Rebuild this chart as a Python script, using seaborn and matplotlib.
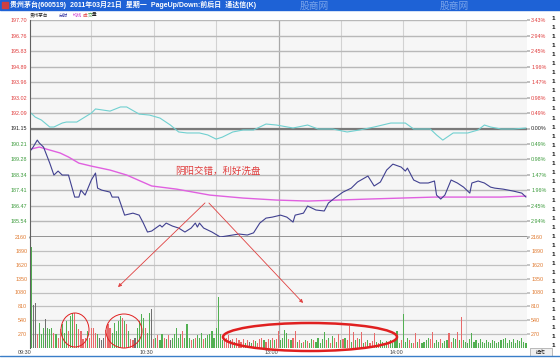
import numpy as np
import pandas as pd
import matplotlib
matplotlib.use('Agg')
import matplotlib.pyplot as plt
import seaborn as sns
from matplotlib.patches import Rectangle, Ellipse, FancyArrowPatch

# ---------------- data ----------------
price_min = [1,2,4,5,7,10,12,14,16,19,22,24,25,27,28,30,32,33,35,39,40,43,44,46,50,53,55,57,59,61,63,64,66,69,72,75,78,80,81,82,84,86,88,92,95,98,101,105,108,111,114,117,121,124,127,128,132,134,138,142,144,147,151,155,158,163,166,169,172,175,179,181,182,185,188,192,195,196,198,200,203,206,209,212,213,216,219,222,224,228,233,237,239]
price_val = [189.85,190.03,190.45,190.27,190.03,189.06,188.34,188.58,188.34,188.34,187.01,187.01,187.43,187.13,187.43,188.04,188.46,187.55,187.43,187.31,187.01,187.01,186.65,185.92,186.04,185.92,185.44,184.90,184.96,185.14,185.32,185.20,185.44,185.26,185.14,184.90,185.14,185.44,185.20,185.44,185.14,185.02,184.90,184.60,184.66,184.72,184.78,184.72,184.85,185.44,185.74,185.80,185.92,185.80,185.50,185.92,186.04,186.47,186.23,186.17,186.65,186.95,187.31,187.55,187.92,188.28,187.68,187.92,188.64,189.00,188.82,188.58,188.76,188.04,187.86,187.86,187.98,187.13,186.89,187.13,188.04,187.86,187.61,187.25,187.86,187.98,187.86,187.61,187.55,187.49,187.37,187.25,187.01]

avg_min = [1,5,15,19,24,30,39,47,59,71,87,103,119,134,163,195,227,239]
avg_val = [189.91,190.03,189.67,189.43,189.06,188.88,188.64,188.34,187.68,187.49,187.13,186.95,186.83,186.77,186.89,187.01,187.01,187.07]

idx_min = [1,3,6,10,12,16,18,23,30,32,39,44,47,53,58,63,68,72,76,82,86,90,93,98,103,108,114,119,127,134,139,146,153,159,166,174,181,185,193,196,199,204,211,216,219,222,227,233,239]
idx_val = [192.08,191.84,191.66,191.24,191.24,191.48,191.54,191.54,192.08,192.33,192.20,192.45,192.45,192.02,191.96,191.78,191.36,190.94,190.88,190.88,190.76,190.51,190.63,190.94,191.06,191.06,191.42,191.36,191.18,191.36,191.12,191.12,190.94,191.06,191.24,191.48,191.48,191.12,191.12,190.76,190.45,190.88,190.88,191.06,191.36,191.24,191.12,191.12,191.18]

vol_val = [1960,830,880,270,490,270,390,560,390,370,
           390,290,270,200,370,460,300,520,330,620,
           680,680,460,370,330,170,200,330,200,390,
           390,300,270,200,150,200,350,470,390,300,
           490,330,520,620,580,520,460,330,170,150,
           200,390,520,660,580,390,300,680,760,180,
           200,250,150,270,200,180,250,150,200,270,
           390,200,270,330,200,460,200,150,180,200,
           250,200,300,180,200,250,270,330,200,390,
           1000,270,150,150,200,250,150,180,120,200,
           150,120,180,100,150,120,100,160,130,100,
           180,200,150,120,180,160,200,150,180,330,
           150,200,350,300,180,150,200,330,120,150,
           100,120,150,130,100,180,150,120,200,100,
           180,320,150,200,100,230,200,120,270,150,
           180,200,150,430,120,320,150,200,180,320,
           100,120,150,100,130,300,120,100,150,120,
           100,140,120,150,100,180,330,100,150,660,
           120,200,150,100,100,300,120,180,100,120,
           150,200,180,320,100,150,120,180,100,130,
           150,300,120,200,180,320,150,600,150,120,
           100,180,300,120,150,100,180,120,100,150,
           120,100,150,130,100,120,150,180,200,100,
           150,120,180,100,150,130,200,120,100]
vol_dir = list("gkkrgggkgg" "grgrrgggrg" "grgrrrrgrr" "rrgkkkrrrg" "ggggrgrgrr"
               "kggggrggkr" "grggrgrkgg" "gggrgggrgr" "gggrgggggg" "gggrrrkrgr"
               "rrrgrkgrgr" "rrgrrgrgrr" "ggggrgrrgr" "grgrggrggg" "ggrgrgrgrg"
               "rgrrgrgrgr" "grgrrrgrgg" "ggrgggggrg" "ggrgrrgrgg" "ggrrgggrgg"
               "grrggrgrgg" "gggggggggg" "gggggggggg" "ggggggggg")
minutes = list(range(1, 240))

price_ticks = [197.70,196.76,195.83,194.89,193.96,193.02,192.09,191.15,190.21,189.28,188.34,187.41,186.47,185.54]
pct_labels = ["3.43%","2.94%","2.45%","1.96%","1.47%","0.98%","0.49%","0.00%","0.49%","0.98%","1.47%","1.96%","2.45%","2.94%"]
vol_ticks = [270,540,810,1080,1350,1620,1890,2160]
time_pos = [1,60,120,180]
time_labels = ["09:30","10:30","13:00","14:00"]
prev_close = 191.15
price_low = 184.60

# ---------------- figure ----------------
sns.set_theme(style='white')
plt.rcParams['font.family'] = ['Liberation Sans', 'Noto Sans CJK SC', 'DejaVu Sans']
W, H = 560, 363
fig = plt.figure(figsize=(5.6, 3.63), dpi=100)
fig.patch.set_facecolor('white')
def fx(x): return x / W
def fy(y): return 1 - y / H

L, R, TOP, MID, BOT = 30, 527, 20, 237, 348
ax = fig.add_axes([fx(L), fy(MID), (R-L)/W, (MID-TOP)/H])
axv = fig.add_axes([fx(L), fy(BOT), (R-L)/W, (BOT-MID)/H])
BG = '#f6f6f6'
RED, GREEN, ORANGE = '#e03c3c', '#3a9a3a', '#e07a30'

for a in (ax, axv):
    a.set_facecolor(BG)
    for s in ('top', 'right', 'bottom'):
        a.spines[s].set_visible(False)
    a.spines['left'].set_color('#606060')
    a.spines['left'].set_linewidth(0.8)
    a.set_xlim(0.5, 239.5)
    for m in (30, 60, 90, 150, 180, 210):
        a.axvline(m, color='#d2d2d2', lw=0.8, zorder=0)
    a.axvline(120, color='#a8a8a8', lw=0.9, zorder=0)

# price panel
ax.set_ylim(price_low, price_ticks[0])
for v in price_ticks:
    ax.axhline(v, color='#b8b8b8', lw=1.0, zorder=0)
ax.axhline(prev_close, color='#7a7a7a', lw=1.6, zorder=1)
ax.axhline(price_low, color='#8a8a8a', lw=2.0, zorder=1, clip_on=False)

sns.lineplot(x=idx_min, y=idx_val, ax=ax, color='#70d0d0', lw=0.8)
sns.lineplot(x=avg_min, y=avg_val, ax=ax, color='#e060e0', lw=1.0)
sns.lineplot(x=price_min, y=price_val, ax=ax, color='#404090', lw=0.8)

ax.set_yticks(price_ticks)
ax.set_yticklabels(["%.2f" % v for v in price_ticks])
ax.tick_params(axis='y', length=0, pad=2, labelsize=3.9)
for lab, v in zip(ax.get_yticklabels(), price_ticks):
    lab.set_color(RED if v > prev_close + 0.01 else ('#222222' if abs(v - prev_close) < 0.01 else GREEN))
ax.set_xticks([])
ax.set_xlabel('')
ax.set_ylabel('')

axr = ax.twinx()
axr.set_ylim(ax.get_ylim())
axr.set_yticks(price_ticks)
axr.set_yticklabels(pct_labels)
axr.tick_params(axis='y', length=2, color='#b8b8b8', pad=1, labelsize=3.9)
for s in axr.spines.values():
    s.set_visible(False)
for lab, v in zip(axr.get_yticklabels(), price_ticks):
    lab.set_color(RED if v > prev_close + 0.01 else ('#222222' if abs(v - prev_close) < 0.01 else GREEN))

# volume panel
dfv = pd.DataFrame({'minute': minutes, 'vol': vol_val, 'dir': vol_dir})
sns.barplot(data=dfv, x='minute', y='vol', hue='dir', native_scale=True, dodge=False,
            palette={'r': '#e86a6a', 'g': '#52b052', 'k': '#707070'}, width=0.55,
            legend=False, ax=axv, saturation=1, errorbar=None, linewidth=0, edgecolor='none')
axv.set_xlim(0.5, 239.5)
axv.set_ylim(0, 2160)
for v in vol_ticks[:-1]:
    axv.axhline(v, color='#c0c0c0', lw=0.9, zorder=0)
axv.set_yticks(vol_ticks)
axv.set_yticklabels([str(v) for v in vol_ticks])
axv.tick_params(axis='y', length=0, pad=2, labelsize=3.9, labelcolor=ORANGE)
axv.set_xticks(time_pos)
axv.set_xticklabels(time_labels)
axv.tick_params(axis='x', length=0, pad=1.5, labelsize=3.9, labelcolor='#404040')
for lab in axv.get_xticklabels():
    lab.set_horizontalalignment('right')
axv.set_xlabel('')
axv.set_ylabel('')
axvr = axv.twinx()
axvr.set_ylim(0, 2160)
axvr.set_yticks(vol_ticks)
axvr.set_yticklabels([str(v) for v in vol_ticks])
axvr.tick_params(axis='y', length=2, color='#c0c0c0', pad=1, labelsize=3.9, labelcolor=ORANGE)
for s in axvr.spines.values():
    s.set_visible(False)

# ---------------- chrome ----------------
fig.add_artist(Rectangle((0, fy(10)), 1, 10/H, transform=fig.transFigure, color='#1e62d6', zorder=5))
fig.text(fx(10), fy(5), "贵州茅台(600519)  2011年03月21日  星期一  PageUp/Down:前后日  通达信(K)",
         color='white', fontsize=5, fontweight='bold', va='center', ha='left', zorder=6)
fig.add_artist(Rectangle((fx(2), fy(8)), 6/W, 6/H, transform=fig.transFigure, color='#d04040', zorder=6))
for xw in (300, 440):
    fig.text(fx(xw), fy(6), "股商网", color='#8fb4f0', fontsize=7, va='center', ha='left', zorder=6, alpha=0.8)
fig.text(fx(30), fy(15), "贵州茅台", color='#202020', fontsize=3.3, va='center')
fig.text(fx(59), fy(15), "分时", color='#3030a0', fontsize=3.3, va='center')
fig.text(fx(73), fy(15), "均线", color='#d040d0', fontsize=3.3, va='center')
fig.text(fx(83), fy(15), "成", color=RED, fontsize=3.3, va='center')
fig.text(fx(87.5), fy(15), "交", color=GREEN, fontsize=3.3, va='center')
fig.text(fx(92), fy(15), "量", color='#202020', fontsize=3.3, va='center')
for yy in np.arange(18, 352, 9.1):
    fig.text(fx(552), fy(yy), "1", color='#101010', fontsize=4.5, fontweight='bold', va='center')
fig.add_artist(plt.Line2D([0, 1], [fy(356), fy(356)], transform=fig.transFigure, color='#3a7ec8', lw=1.0))
fig.add_artist(Rectangle((fx(530), fy(356)), 22/W, 8/H, transform=fig.transFigure,
                         facecolor='#f0f0f0', edgecolor='#a0a0a0', lw=0.5))
fig.text(fx(541), fy(352), "操作", color='#202020', fontsize=3.5, va='center', ha='center')

# ---------------- annotations ----------------
fig.text(fx(175), fy(171), "阴阳交错，利好洗盘", color='#e03c3c', fontsize=6.8, va='center', ha='left')
for end in ((116, 289), (305, 305)):
    fig.add_artist(FancyArrowPatch((fx(207), fy(201)), (fx(end[0]), fy(end[1])),
                                   transform=fig.transFigure, arrowstyle='-|>', mutation_scale=5,
                                   color='#e04040', lw=0.6))
for cx, cy, w, h, lw in ((75, 330, 28, 34, 0.7), (124, 331, 36, 34, 0.7), (310, 337, 174, 28, 1.8)):
    fig.add_artist(Ellipse((fx(cx), fy(cy)), w/W, h/H, transform=fig.transFigure,
                           fill=False, edgecolor='#e02020', lw=lw, zorder=7))

fig.savefig('out.png', dpi=100, facecolor='white')
